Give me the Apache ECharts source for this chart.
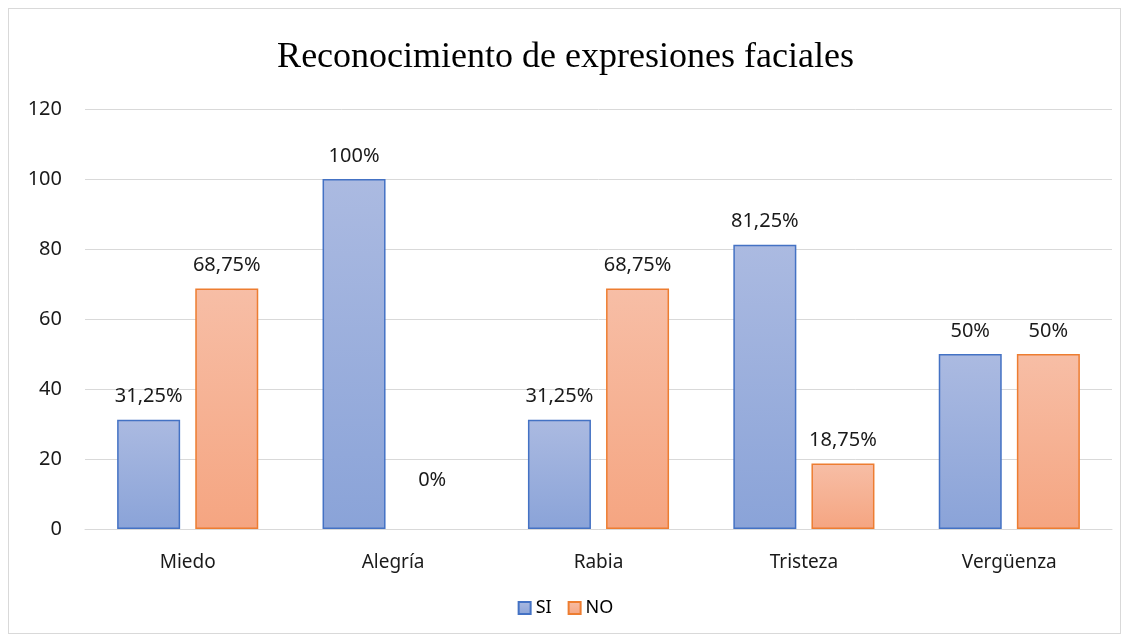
<!DOCTYPE html>
<html>
<head>
<meta charset="utf-8">
<script src="https://cdn.jsdelivr.net/npm/echarts@6/dist/echarts.min.js"></script>
<style>
html,body{margin:0;padding:0;background:#fff;}
#wrap{position:absolute;left:8px;top:8px;width:1113px;height:626px;border:1px solid #d9d9d9;box-sizing:border-box;}
#main{position:absolute;left:0;top:0;width:1131px;height:643px;}
</style>
</head>
<body>
<div id="wrap"></div>
<div id="main"></div>
<script>
var categories = ['Miedo', 'Alegría', 'Rabia', 'Tristeza', 'Vergüenza'];
var siValues = [31.25, 100, 31.25, 81.25, 50];
var noValues = [68.75, 0, 68.75, 18.75, 50];
var yTicks = [0, 20, 40, 60, 80, 100, 120];

var txt = '#1a1a1a';
var font = 'Noto Sans';

function pct(v){
    return String(v).replace('.', ',') + '%';
}

function makeData(arr){
    var d = [];
    for(var i = 0; i < arr.length; i++){
        var item = {value: arr[i]};
        if(arr[i] === 0){
            // zero bar: no visible outline, label sits higher like in excel
            item.label = {distance: 39};
            item.itemStyle = {borderWidth: 0, color: 'rgba(0,0,0,0)'};
        }
        d.push(item);
    }
    return d;
}

function grad(top, bottom){
    return new echarts.graphic.LinearGradient(0, 0, 0, 1, [
        {offset: 0, color: top},
        {offset: 1, color: bottom}
    ]);
}

var myChart = echarts.init(document.getElementById('main'));
var option = {
    animation: false,
    title: {
        text: 'Reconocimiento de expresiones faciales',
        left: 'center',
        top: 35,
        textStyle: {
            fontFamily: 'Liberation Serif',
            fontWeight: 'normal',
            fontSize: 36,
            color: '#000'
        }
    },
    legend: {
        bottom: 21,
        left: 'center',
        icon: 'rect',
        itemWidth: 12,
        itemHeight: 12,
        itemGap: 16,
        textStyle: {fontFamily: font, fontSize: 18, color: '#000'},
        data: ['SI', 'NO']
    },
    grid: {
        left: 85,
        right: 19,
        top: 109,
        bottom: 114,
        containLabel: false
    },
    xAxis: {
        type: 'category',
        data: categories,
        axisLine: {lineStyle: {color: '#d9d9d9', width: 1}},
        axisTick: {show: false},
        axisLabel: {fontFamily: font, fontSize: 19, color: txt, margin: 24}
    },
    yAxis: {
        type: 'value',
        min: yTicks[0],
        max: yTicks[yTicks.length - 1],
        interval: 20,
        axisLine: {show: false},
        axisTick: {show: false},
        splitLine: {lineStyle: {color: '#d9d9d9', width: 1}},
        axisLabel: {fontFamily: font, fontSize: 20, color: txt, margin: 23}
    },
    series: [
        {
            name: 'SI',
            type: 'bar',
            barWidth: 63,
            barGap: '24%',
            data: makeData(siValues),
            itemStyle: {
                color: grad('#abbae1', '#8aa3d8'),
                borderColor: '#4472c4',
                borderWidth: 1.5
            },
            label: {
                show: true,
                position: 'top',
                distance: 13,
                fontFamily: font,
                fontSize: 20,
                color: txt,
                formatter: function(p){ return pct(p.value); }
            }
        },
        {
            name: 'NO',
            type: 'bar',
            barWidth: 63,
            data: makeData(noValues),
            itemStyle: {
                color: grad('#f7bea6', '#f5a581'),
                borderColor: '#ed7d31',
                borderWidth: 1.5
            },
            label: {
                show: true,
                position: 'top',
                distance: 13,
                fontFamily: font,
                fontSize: 20,
                color: txt,
                formatter: function(p){ return pct(p.value); }
            }
        }
    ]
};
myChart.setOption(option);
</script>
</body>
</html>
